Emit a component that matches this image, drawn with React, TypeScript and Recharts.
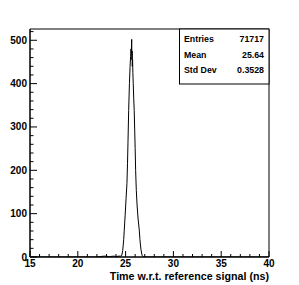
import { LineChart, Line, XAxis, YAxis, ReferenceArea } from "recharts";

const timeNs = [
  15, 21.8, 22.3, 22.8, 23.3, 23.8, 24.0, 24.3, 24.5, 24.6, 24.7, 24.8, 24.86, 24.95, 25.05, 25.14, 25.2,
  25.25, 25.32, 25.4, 25.47, 25.52, 25.57, 25.6, 25.62, 25.64, 25.66, 25.68, 25.7, 25.73, 25.76, 25.8,
  25.85, 25.9, 25.95, 26.0, 26.05, 26.12, 26.2, 26.3, 26.43, 26.5, 26.6, 26.72, 26.85, 27.0, 40,
];
const counts = [
  0, 0, 1, 2, 1, 2, 1, 2, 2, 4, 15, 40, 62, 95, 135, 170, 215,
  265, 338, 400, 440, 462, 480, 470, 490, 502, 455, 475, 440, 455, 425, 400,
  365, 338, 295, 250, 200, 154, 120, 90, 62, 40, 18, 4, 1, 0, 0,
];

const xTicks = [15, 16, 17, 18, 19, 20, 21, 22, 23, 24, 25, 26, 27, 28, 29, 30, 31, 32, 33, 34, 35, 36, 37, 38, 39, 40];
const yTicks = [0, 20, 40, 60, 80, 100, 120, 140, 160, 180, 200, 220, 240, 260, 280, 300, 320, 340, 360, 380, 400, 420, 440, 460, 480, 500, 520];

const xTitle = "Time w.r.t. reference signal (ns)";
const statLabels = ["Entries", "Mean", "Std Dev"];
const statValues = ["71717", "25.64", "0.3528"];

const data = timeNs.map((t, i) => ({ t, count: counts[i] }));

const font = "'Liberation Sans', Arial, Helvetica, sans-serif";

function XTick(props: any) {
  const { x, y, payload } = props;
  const major = payload.value % 5 === 0;
  return (
    <g>
      <line x1={x} x2={x} y1={y} y2={y - (major ? 6 : 3)} stroke="#000" />
      {major && (
        <text x={x} y={y + 10} textAnchor="middle" fontSize={10} fontWeight="bold" fontFamily={font} fill="#000">
          {payload.value}
        </text>
      )}
    </g>
  );
}

function YTick(props: any) {
  const { x, y, payload } = props;
  const major = payload.value % 100 === 0;
  return (
    <g>
      <line x1={x} x2={x + (major ? 7 : 3.5)} y1={y} y2={y} stroke="#000" />
      {major && (
        <text x={x - 3} y={y + 3.5} textAnchor="end" fontSize={10} fontWeight="bold" fontFamily={font} fill="#000">
          {payload.value}
        </text>
      )}
    </g>
  );
}

export default function App() {
  return (
    <div style={{ position: "absolute", left: 0, top: 0, width: 299, height: 285, background: "#fff" }}>
      <LineChart width={299} height={285} data={data} margin={{ top: 29, right: 30, left: 0, bottom: 0 }}>
        <XAxis
          dataKey="t"
          type="number"
          domain={[15, 40]}
          ticks={xTicks}
          interval={0}
          height={28}
          tickSize={0}
          tickMargin={0}
          tickLine={false}
          axisLine={{ stroke: "#000" }}
          tick={<XTick />}
          allowDataOverflow
        />
        <YAxis
          type="number"
          domain={[0, 526]}
          ticks={yTicks}
          interval={0}
          width={30}
          tickSize={0}
          tickMargin={0}
          tickLine={false}
          axisLine={{ stroke: "#000" }}
          tick={<YTick />}
          allowDataOverflow
        />
        <ReferenceArea x1={15} x2={40} y1={0} y2={526} fill="none" stroke="#000" strokeOpacity={1} ifOverflow="visible" />
        <Line type="linear" dataKey="count" stroke="#000" strokeWidth={1} dot={false} isAnimationActive={false} />
      </LineChart>
      <svg width={299} height={285} style={{ position: "absolute", left: 0, top: 0, pointerEvents: "none" }}>
        <text x={269} y={280} textAnchor="end" fontSize={10.7} fontWeight="bold" fontFamily={font} fill="#000">
          {xTitle}
        </text>
        <rect x={179.5} y={29} width={89.5} height={55} fill="#fff" stroke="#000" />
        {statLabels.map((label, i) => (
          <g key={label}>
            <text x={184} y={42 + i * 15.5} fontSize={8.8} fontWeight="bold" fontFamily={font} fill="#000">
              {label}
            </text>
            <text x={264} y={42 + i * 15.5} textAnchor="end" fontSize={8.8} fontWeight="bold" fontFamily={font} fill="#000">
              {statValues[i]}
            </text>
          </g>
        ))}
      </svg>
    </div>
  );
}
